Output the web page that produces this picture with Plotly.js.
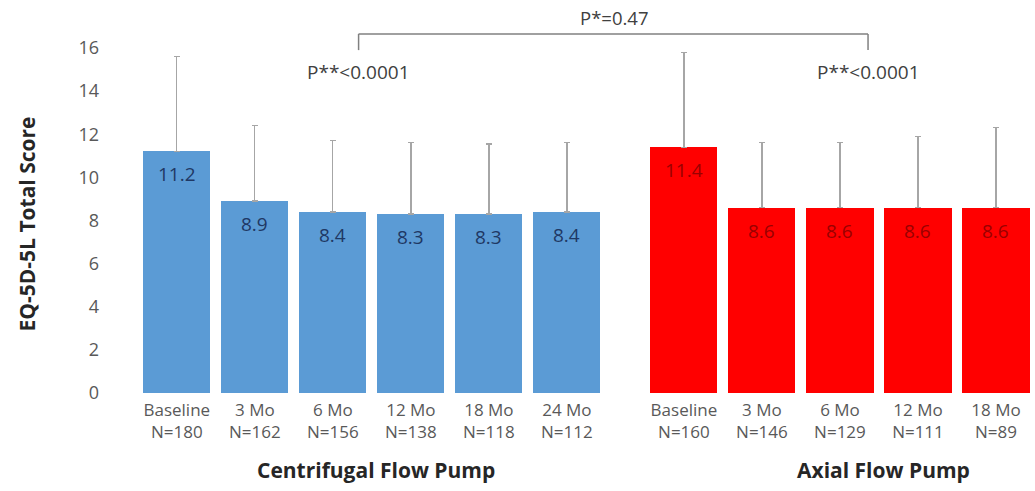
<!DOCTYPE html>
<html>
<head>
<meta charset="utf-8">
<script src="https://cdn.plot.ly/plotly-3.0.1.min.js"></script>
<style>html,body{margin:0;padding:0;background:#fff;}#chart{width:1035px;height:491px;}</style>
</head>
<body>
<div id="chart"></div>
<script>
// ---- data ----
const centrifugalLabels = ["Baseline", "3 Mo", "6 Mo", "12 Mo", "18 Mo", "24 Mo"];
const centrifugalN = [180, 162, 156, 138, 118, 112];
const centrifugalMean = [11.2, 8.9, 8.4, 8.3, 8.3, 8.4];
const centrifugalSD = [4.4, 3.5, 3.3, 3.3, 3.25, 3.2];

const axialLabels = ["Baseline", "3 Mo", "6 Mo", "12 Mo", "18 Mo"];
const axialN = [160, 146, 129, 111, 89];
const axialMean = [11.4, 8.6, 8.6, 8.6, 8.6];
const axialSD = [4.4, 3.0, 3.0, 3.3, 3.7];

const groupNames = ["Centrifugal Flow Pump", "Axial Flow Pump"];
const pBetween = "P*=0.47";
const pWithin = ["P**<0.0001", "P**<0.0001"];
const yTickVals = [0, 2, 4, 6, 8, 10, 12, 14, 16];

// ---- positions (category slots) ----
const xC = centrifugalLabels.map((_, i) => i);
const xA = axialLabels.map((_, i) => i + centrifugalLabels.length + 0.5);

const font = "'Open Sans', Lato, sans-serif";

const traces = [
  {
    type: "bar", x: xC, y: centrifugalMean, width: 0.86,
    marker: {color: "#5B9BD5"},
    error_y: {type: "data", symmetric: false, array: centrifugalSD,
              arrayminus: centrifugalSD.map(() => 0), color: "#A6A6A6", thickness: 1.3, width: 3},
    hoverinfo: "none", showlegend: false
  },
  {
    type: "bar", x: xA, y: axialMean, width: 0.86,
    marker: {color: "#FF0000"},
    error_y: {type: "data", symmetric: false, array: axialSD,
              arrayminus: axialSD.map(() => 0), color: "#A6A6A6", thickness: 1.3, width: 3},
    hoverinfo: "none", showlegend: false
  }
];

const tickvals = xC.concat(xA);
const ticktext = centrifugalLabels.map((l, i) => l + "<br>N=" + centrifugalN[i])
  .concat(axialLabels.map((l, i) => l + "<br>N=" + axialN[i]));

const annotations = [];
xC.forEach((x, i) => annotations.push({
  x: x, y: centrifugalMean[i], xref: "x", yref: "y", text: centrifugalMean[i].toFixed(1),
  showarrow: false, yshift: -23, font: {family: font, size: 19, color: "#1F3864"}
}));
xA.forEach((x, i) => annotations.push({
  x: x, y: axialMean[i], xref: "x", yref: "y", text: axialMean[i].toFixed(1),
  showarrow: false, yshift: -23, font: {family: font, size: 19, color: "#9A0000"}
}));

// group titles
annotations.push({x: 2.55, y: -0.202, xref: "x", yref: "paper", xanchor: "center", yanchor: "middle",
  text: "<b>" + groupNames[0] + "</b>",
  showarrow: false, font: {family: font, size: 21, color: "#262626"}});
annotations.push({x: 9.06, y: -0.202, xref: "x", yref: "paper", xanchor: "center", yanchor: "middle",
  text: "<b>" + groupNames[1] + "</b>",
  showarrow: false, font: {family: font, size: 21, color: "#262626"}});

// y-axis title
annotations.push({x: 0, y: 0.44, xref: "paper", yref: "paper", xanchor: "center", yanchor: "middle",
  xshift: -103, text: "<b>EQ-5D-5L Total Score</b>",
  textangle: -90, showarrow: false, font: {family: font, size: 21, color: "#262626"}});

// p-values
const bracketL = 2.33, bracketR = 8.86;
annotations.push({x: (bracketL + bracketR) / 2 + 0.02, y: 17.4, xref: "x", yref: "y", text: pBetween,
  showarrow: false, font: {family: font, size: 18.5, color: "#404040"}});
annotations.push({x: bracketL, y: 14.9, xref: "x", yref: "y", text: pWithin[0],
  showarrow: false, font: {family: font, size: 19, color: "#404040"}});
annotations.push({x: bracketR, y: 14.9, xref: "x", yref: "y", text: pWithin[1],
  showarrow: false, font: {family: font, size: 19, color: "#404040"}});

const lineStyle = {color: "#808080", width: 1.5};
const shapes = [
  {type: "line", xref: "x", yref: "y", x0: bracketL, x1: bracketR, y0: 16.65, y1: 16.65, line: lineStyle},
  {type: "line", xref: "x", yref: "y", x0: bracketL, x1: bracketL, y0: 16.65, y1: 15.9, line: lineStyle},
  {type: "line", xref: "x", yref: "y", x0: bracketR, x1: bracketR, y0: 16.65, y1: 15.9, line: lineStyle}
];

const layout = {
  width: 1035, height: 491,
  margin: {l: 130, r: 0, t: 10, b: 98},
  paper_bgcolor: "#fff", plot_bgcolor: "#fff",
  font: {family: font},
  xaxis: {
    range: [-0.6, 11.0], tickvals: tickvals, ticktext: ticktext,
    showgrid: false, zeroline: false, showline: false, ticks: "", ticklabelstandoff: 5,
    tickfont: {family: font, size: 17, color: "#595959"}
  },
  yaxis: {
    range: [0, 17.76], tickvals: yTickVals, showgrid: false, zeroline: false, showline: false,
    ticks: "", ticklabelstandoff: 30,
    tickfont: {family: font, size: 18, color: "#595959"}
  },
  annotations: annotations,
  shapes: shapes,
  bargap: 0
};

Plotly.newPlot("chart", traces, layout, {staticPlot: true, displayModeBar: false});
</script>
</body>
</html>
